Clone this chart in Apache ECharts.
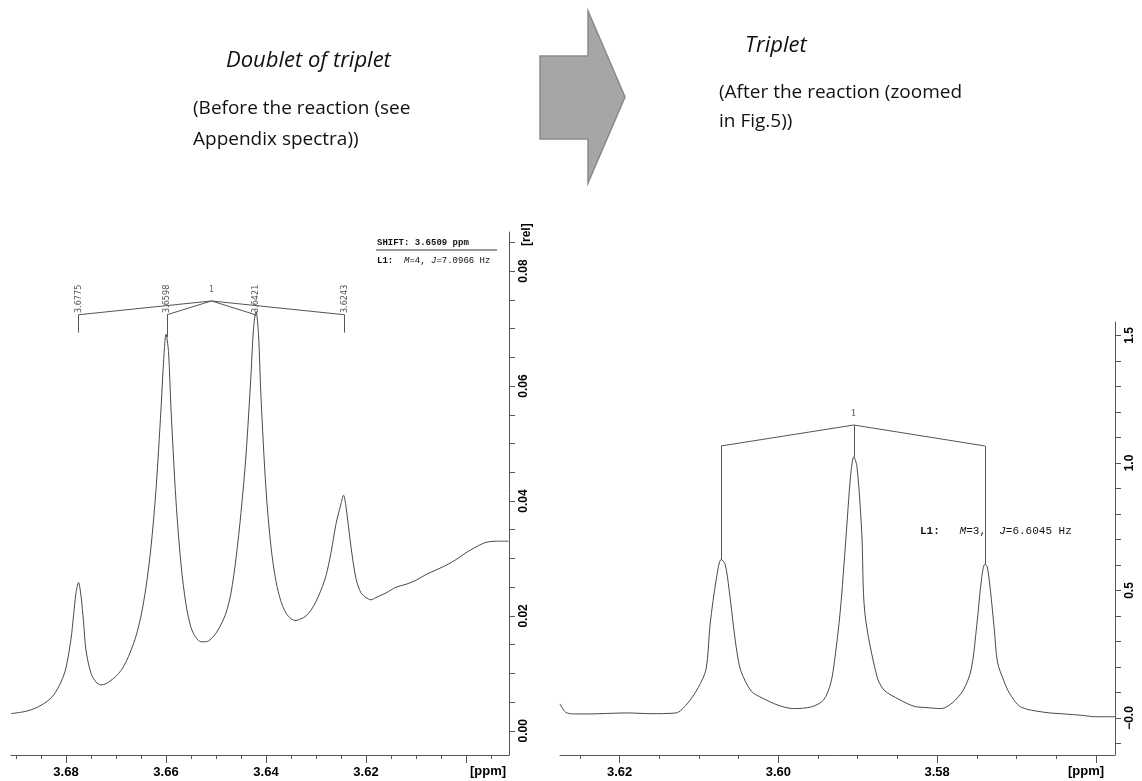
<!DOCTYPE html>
<html><head><meta charset="utf-8">
<script src="https://cdn.jsdelivr.net/npm/echarts@6/dist/echarts.min.js"></script>
<style>html,body{margin:0;padding:0;background:#fff}#c{width:1142px;height:781px}</style>
</head><body><div id="c"></div>
<script>
// ---------- Left spectrum (before reaction) ----------
const leftPpm = [3.691,3.688,3.686,3.684,3.6825,3.681,3.680,3.679,3.6785,3.678,3.6775,3.677,3.6765,3.676,3.675,3.674,3.673,3.672,3.671,3.670,3.669,3.668,3.667,3.666,3.665,3.664,3.663,3.662,3.661,3.6605,3.660,3.6595,3.659,3.658,3.657,3.656,3.655,3.654,3.653,3.652,3.651,3.650,3.649,3.648,3.647,3.646,3.645,3.644,3.643,3.6425,3.642,3.6415,3.641,3.640,3.639,3.638,3.637,3.636,3.635,3.634,3.633,3.632,3.631,3.630,3.629,3.628,3.627,3.626,3.625,3.6245,3.624,3.623,3.622,3.621,3.620,3.619,3.618,3.616,3.614,3.612,3.610,3.608,3.606,3.604,3.602,3.600,3.598,3.596,3.594,3.5915];
const leftRel = [0.0030,0.0034,0.0040,0.0050,0.0062,0.0085,0.0110,0.0160,0.0200,0.0240,0.0258,0.0235,0.0190,0.0140,0.0100,0.0085,0.0080,0.0082,0.0088,0.0095,0.0105,0.0120,0.0140,0.0165,0.0200,0.0250,0.0320,0.0420,0.0560,0.0640,0.0690,0.0660,0.0560,0.0400,0.0290,0.0220,0.0180,0.0162,0.0155,0.0155,0.0160,0.0170,0.0185,0.0205,0.0240,0.0300,0.0380,0.0480,0.0620,0.0700,0.0730,0.0690,0.0580,0.0420,0.0320,0.0260,0.0225,0.0205,0.0195,0.0192,0.0195,0.0200,0.0210,0.0225,0.0245,0.0270,0.0310,0.0360,0.0395,0.0410,0.0390,0.0320,0.0265,0.0240,0.0232,0.0228,0.0232,0.0240,0.0250,0.0255,0.0262,0.0272,0.0280,0.0288,0.0298,0.0310,0.0320,0.0328,0.0330,0.0330];

// ---------- Right spectrum (after reaction) ----------
const rightPpm = [3.6275,3.6268,3.6258,3.6239,3.6215,3.6191,3.6160,3.6129,3.6115,3.6101,3.6091,3.6086,3.6078,3.6072,3.6067,3.6062,3.6056,3.6052,3.6047,3.6034,3.6020,3.6000,3.5981,3.5958,3.5943,3.5934,3.5929,3.5922,3.5915,3.5909,3.5905,3.5901,3.5895,3.5891,3.5876,3.5867,3.5848,3.5829,3.5814,3.5795,3.5781,3.5767,3.5757,3.5750,3.5744,3.5740,3.5737,3.5733,3.5728,3.5724,3.5716,3.5709,3.5695,3.5666,3.5640,3.5619,3.5600,3.5576];
const rightRel = [0.055,0.023,0.016,0.016,0.018,0.020,0.017,0.020,0.055,0.119,0.192,0.366,0.548,0.622,0.603,0.503,0.347,0.256,0.183,0.105,0.078,0.050,0.037,0.044,0.071,0.137,0.230,0.420,0.700,0.950,1.024,0.987,0.731,0.411,0.165,0.110,0.073,0.046,0.041,0.037,0.059,0.110,0.192,0.366,0.548,0.603,0.594,0.503,0.347,0.219,0.146,0.098,0.044,0.023,0.016,0.011,0.005,0.005];

// ---------- Axis ticks / labels ----------
const leftXMajor = [3.60,3.62,3.64,3.66,3.68];
const leftXLabels = [3.62,3.64,3.66,3.68];
const leftXMinor = [3.595,3.605,3.610,3.615,3.625,3.630,3.635,3.645,3.650,3.655,3.665,3.670,3.675,3.685,3.690];
const leftYLabels = [0,0.02,0.04,0.06,0.08];
const leftYTicks = [0,0.005,0.01,0.015,0.02,0.025,0.03,0.035,0.04,0.045,0.05,0.055,0.06,0.065,0.07,0.075,0.08,0.085];
const rightXMajor = [3.56,3.58,3.60,3.62];
const rightXLabels = [3.58,3.60,3.62];
const rightXMinor = [3.565,3.570,3.575,3.585,3.590,3.595,3.605,3.610,3.615,3.625];
const rightYLabels = [0,0.5,1.0,1.5];
const rightYTicks = [-0.1,0,0.1,0.2,0.3,0.4,0.5,0.6,0.7,0.8,0.9,1.0,1.1,1.2,1.3,1.4,1.5];

// ---------- Multiplet annotations ----------
const leftMultiplet = [3.6775,3.6598,3.6421,3.6243];
const leftMultipletTops = [0.0693,0.0685,0.0722,0.0693];
const leftCenter = 3.6509;
const leftApexLevel = 0.0748, leftEndLevel = 0.0724;
const rightMultiplet = [3.6072,3.5905,3.5740];
const rightMultipletTops = [0.622,1.024,0.603];
const rightCenter = 3.5905;
const rightApexLevel = 1.149, rightEndLevel = 1.067;

const curveColor = '#4a4a4a';
const axisColor = '#555';
const chart = echarts.init(document.getElementById('c'), null, {renderer:'canvas'});

const pairs = (xs, ys) => xs.map((x,i)=>[x, ys[i]]);

function bracketLines(peaks, tops, center, apex, end){
  const segs = [];
  peaks.forEach((p,i)=>{
    segs.push([[center, apex],[p, end]]);
    segs.push([[p, end],[p, tops[i]]]);
  });
  return segs;
}
const leftSegs = bracketLines(leftMultiplet, leftMultipletTops, leftCenter, leftApexLevel, leftEndLevel);
const rightSegs = [
  [[rightCenter, rightApexLevel],[rightMultiplet[0], rightEndLevel]],
  [[rightCenter, rightApexLevel],[rightMultiplet[2], rightEndLevel]],
  [[rightMultiplet[0], rightEndLevel],[rightMultiplet[0], rightMultipletTops[0]]],
  [[rightMultiplet[2], rightEndLevel],[rightMultiplet[2], rightMultipletTops[2]]],
  [[rightCenter, rightApexLevel],[rightCenter, rightMultipletTops[1]]]
];

function segSeries(segs, xi, yi){
  return {
    type:'lines', coordinateSystem:'cartesian2d', xAxisIndex:xi, yAxisIndex:yi,
    polyline:false, silent:true,
    lineStyle:{color:'#555', width:1, opacity:1},
    data: segs.map(s=>({coords:s}))
  };
}

const xLabelStyle = {color:'#000', fontFamily:'Liberation Sans', fontWeight:'bold', fontSize:13, margin:11};
const yLabelStyle = {color:'#000', fontFamily:'Liberation Sans', fontWeight:'bold', fontSize:12, rotate:90, align:'center', verticalAlign:'top', margin:9};

function xAxes(grid, min, max, major, labels, minor){
  return [
    {gridIndex:grid, type:'value', inverse:true, min:min, max:max, position:'bottom',
     axisLine:{onZero:false, lineStyle:{color:axisColor}}, splitLine:{show:false},
     axisTick:{show:true, length:8, lineStyle:{color:axisColor}, customValues:major},
     axisLabel:Object.assign({customValues:labels, formatter:v=>v.toFixed(2)}, xLabelStyle)},
    {gridIndex:grid, type:'value', inverse:true, min:min, max:max, position:'bottom',
     axisLine:{show:false, onZero:false}, splitLine:{show:false},
     axisTick:{show:true, length:4, lineStyle:{color:axisColor}, customValues:minor},
     axisLabel:{show:false}}
  ];
}

const option = {
  animation:false,
  backgroundColor:'#fff',
  grid:[
    {left:11, top:232, width:498, height:523},
    {left:560, top:322, width:555, height:433}
  ],
  xAxis: xAxes(0, 3.5914, 3.691, leftXMajor, leftXLabels, leftXMinor)
    .concat(xAxes(1, 3.5576, 3.6275, rightXMajor, rightXLabels, rightXMinor)),
  yAxis:[
    {gridIndex:0, type:'value', position:'right', min:-0.0042, max:0.0868,
     axisLine:{show:true, onZero:false, lineStyle:{color:axisColor}}, splitLine:{show:false},
     axisTick:{show:true, length:6, lineStyle:{color:axisColor}, customValues:leftYTicks},
     axisLabel:Object.assign({customValues:leftYLabels, formatter:v=>v.toFixed(2)}, yLabelStyle)},
    {gridIndex:1, type:'value', position:'right', min:-0.145, max:1.553,
     axisLine:{show:true, onZero:false, lineStyle:{color:axisColor}}, splitLine:{show:false},
     axisTick:{show:true, length:6, lineStyle:{color:axisColor}, customValues:rightYTicks},
     axisLabel:Object.assign({customValues:rightYLabels, formatter:v=>v===0?'\u22120.0':v.toFixed(1)}, yLabelStyle)}
  ],
  series:[
    {type:'line', xAxisIndex:0, yAxisIndex:0, data:pairs(leftPpm,leftRel), smooth:0.3, showSymbol:false,
     lineStyle:{color:curveColor, width:1}, silent:true},
    {type:'line', xAxisIndex:2, yAxisIndex:1, data:pairs(rightPpm,rightRel), smooth:0.3, showSymbol:false,
     lineStyle:{color:curveColor, width:1}, silent:true},
    segSeries(leftSegs, 0, 0),
    segSeries(rightSegs, 2, 1),
    {type:'scatter', xAxisIndex:0, yAxisIndex:0, symbolSize:0, silent:true,
     data: leftMultiplet.map(p=>[p, leftEndLevel + 0.0003]),
     label:{show:true, position:[0,0], rotate:90, align:'left', verticalAlign:'middle',
            formatter:p=>p.value[0].toFixed(4), fontFamily:'DejaVu Sans Condensed', fontSize:9, color:'#222'}},
    {type:'scatter', xAxisIndex:0, yAxisIndex:0, symbolSize:0, silent:true,
     data: [[leftCenter, leftApexLevel + 0.0012]],
     label:{show:true, position:[0,0], align:'center', verticalAlign:'bottom',
            formatter:'1', fontFamily:'DejaVu Sans Mono', fontSize:8, color:'#333'}},
    {type:'scatter', xAxisIndex:2, yAxisIndex:1, symbolSize:0, silent:true,
     data: [[rightCenter, rightApexLevel + 0.025]],
     label:{show:true, position:[0,0], align:'center', verticalAlign:'bottom',
            formatter:'1', fontFamily:'DejaVu Serif', fontSize:10, color:'#333'}}
  ],
  graphic:[
    {type:'text', left:226, top:50, style:{text:'Doublet of triplet', font:'italic 22px "Open Sans"', fill:'#111'}},
    {type:'text', left:193, top:93, style:{text:'(Before the reaction (see\nAppendix spectra))', font:'19px "Open Sans"', fill:'#111', lineHeight:31}},
    {type:'text', left:745, top:35, style:{text:'Triplet', font:'italic 22px "Open Sans"', fill:'#111'}},
    {type:'text', left:719, top:78, style:{text:'(After the reaction (zoomed\nin Fig.5))', font:'19px "Open Sans"', fill:'#111', lineHeight:29}},
    {type:'polygon', shape:{points:[[540,56],[588,56],[588,11],[625,97],[588,183],[588,139],[540,139]]},
     style:{fill:'#a6a6a6', stroke:'#8a8a8a', lineWidth:1.5}},
    {type:'text', left:377, top:238, style:{text:'SHIFT: 3.6509 ppm', font:'bold 9px "Liberation Mono"', fill:'#111'}},
    {type:'line', shape:{x1:376, y1:250, x2:497, y2:250}, style:{stroke:'#333', lineWidth:1}},
    {type:'text', left:377, top:256, style:{
      text:'{b|L1:}  {i|M}=4, {i|J}=7.0966 Hz',
      rich:{b:{font:'bold 9px "Liberation Mono"', fill:'#111'}, i:{font:'italic 9px "Liberation Mono"', fill:'#111'}},
      font:'9px "Liberation Mono"', fill:'#111'}},
    {type:'text', left:920, top:526, style:{
      text:'{b|L1:}   {i|M}=3,  {i|J}=6.6045 Hz',
      rich:{b:{font:'bold 11px "Liberation Mono"', fill:'#111'}, i:{font:'italic 11px "Liberation Mono"', fill:'#111'}},
      font:'11px "Liberation Mono"', fill:'#111'}},
    {type:'text', left:470, top:765, style:{text:'[ppm]', font:'bold 13px "Liberation Sans"', fill:'#000'}},
    {type:'text', left:1068, top:765, style:{text:'[ppm]', font:'bold 13px "Liberation Sans"', fill:'#000'}},
    {type:'text', x:521, y:246, rotation:Math.PI/2, style:{text:'[rel]', font:'bold 12px "Liberation Sans"', fill:'#000', align:'left', verticalAlign:'top'}}
  ]
};
chart.setOption(option);
</script>
</body></html>
